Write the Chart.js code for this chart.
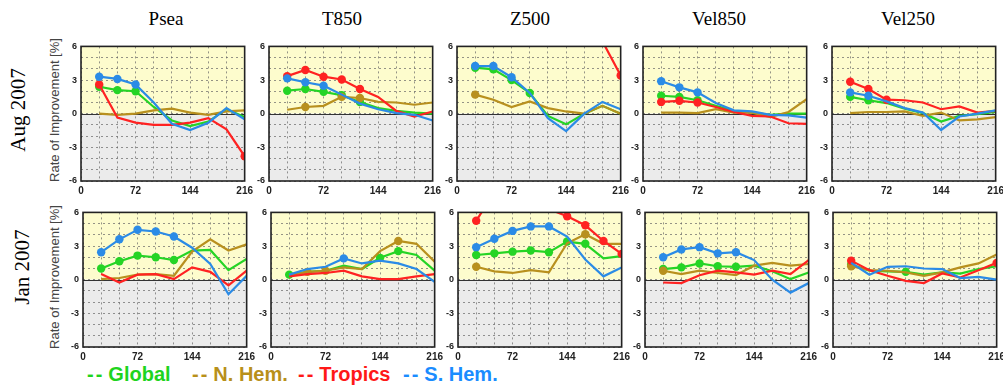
<!DOCTYPE html>
<html>
<head>
<meta charset="utf-8">
<script src="https://cdn.jsdelivr.net/npm/chart.js@4.4.1/dist/chart.umd.min.js"></script>
<style>
  html, body { margin: 0; padding: 0; background: #fff; }
  #wrap { position: relative; width: 1003px; height: 387px; overflow: hidden; }
  #wrap canvas { position: absolute; }
  .ttl { position: absolute; top: 8px; font-family: "Liberation Serif", serif; font-size: 19px; color: #000; transform: translateX(-50%); white-space: nowrap; }
  .row { position: absolute; font-family: "Liberation Serif", serif; font-size: 21px; color: #000; transform: translate(-50%, -50%) rotate(-90deg); white-space: nowrap; }
  .ytl { position: absolute; font-family: "Liberation Sans", Arial, sans-serif; font-size: 13px; color: #444; transform: translate(-50%, -50%) rotate(-90deg); white-space: nowrap; }
  .leg { position: absolute; top: 363px; font-family: "Liberation Sans", Arial, sans-serif; font-weight: bold; font-size: 20px; white-space: nowrap; }
  .leg .dash { letter-spacing: 2px; margin-right: 4px; }
</style>
</head>
<body>
<div id="wrap"></div>
<script>
// ---- 데이터 -------------------------------------------------
const leadHours = [24, 48, 72, 96, 120, 144, 168, 192, 216];
const xGrid = [0, 24, 48, 72, 96, 120, 144, 168, 192, 216];
const yGrid = [-6, -5, -4, -3, -2, -1, 0, 1, 2, 3, 4, 5, 6];
const xTicks = [0, 72, 144, 216];
const yTicks = [-6, -3, 0, 3, 6];
const fields = ["Psea", "T850", "Z500", "Vel850", "Vel250"];
const months = ["Aug 2007", "Jan 2007"];
const regions = ["Global", "N. Hem.", "Tropics", "S. Hem."];
const yTitle = "Rate of Improvement [%]";

// Aug 2007
const augPseaGlo = [2.4, 2.1, 2.0, 0.6, -0.6, -1.1, -0.7, 0.4, -0.3];
const augPseaNh  = [0.0, -0.1, 0.0, 0.3, 0.45, 0.1, -0.1, 0.2, 0.3];
const augPseaTr  = [2.6, -0.35, -0.8, -1.0, -1.0, -0.8, -0.4, -1.4, -3.8];
const augPseaSh  = [3.3, 3.1, 2.6, 1.0, -0.9, -1.45, -0.8, 0.5, -0.5];

const augT850Glo = [2.05, 2.2, 1.95, 1.65, 1.05, 0.5, 0.25, 0.1, 0.0];
const augT850Nh  = [0.35, 0.6, 0.7, 1.5, 1.4, 1.05, 1.0, 0.8, 1.0];
const augT850Tr  = [3.35, 3.9, 3.3, 3.05, 2.2, 1.5, 0.25, -0.25, 0.2];
const augT850Sh  = [3.15, 2.8, 2.5, 1.7, 0.9, 0.4, 0.05, -0.1, -0.6];

const augZ500Glo = [4.1, 3.95, 3.0, 1.85, -0.2, -0.95, 0.0, 0.7, 0.0];
const augZ500Nh  = [1.7, 1.25, 0.6, 1.1, 0.5, 0.2, 0.0, 0.7, 0.0];
const augZ500Tr  = [9.0, 9.0, 9.0, 9.0, 9.0, 8.5, 7.5, 6.45, 3.4];
const augZ500Sh  = [4.25, 4.25, 3.25, 1.85, -0.4, -1.55, 0.0, 1.05, 0.4];

const augV850Glo = [1.6, 1.5, 1.2, 0.7, 0.25, 0.1, -0.1, 0.0, 0.0];
const augV850Nh  = [0.1, 0.1, 0.05, 0.4, 0.1, 0.1, -0.3, 0.15, 1.3];
const augV850Tr  = [1.05, 1.15, 1.0, 0.6, 0.15, -0.2, -0.25, -0.85, -0.9];
const augV850Sh  = [2.9, 2.35, 1.9, 0.95, 0.3, 0.2, -0.1, -0.15, -0.35];

const augV250Glo = [1.5, 1.2, 0.95, 0.45, 0.05, -0.7, -0.2, -0.05, 0.15];
const augV250Nh  = [0.05, 0.15, 0.15, 0.2, -0.2, 0.1, -0.6, -0.5, -0.3];
const augV250Tr  = [2.85, 2.2, 1.25, 1.2, 1.0, 0.4, 0.65, 0.1, 0.25];
const augV250Sh  = [1.9, 1.6, 1.1, 0.5, 0.1, -1.45, -0.25, 0.0, 0.3];

// Jan 2007
const janPseaGlo = [1.0, 1.65, 2.15, 2.0, 1.75, 2.6, 2.65, 0.85, 1.85];
const janPseaNh  = [0.05, 0.15, 0.45, 0.5, 0.35, 2.5, 3.6, 2.6, 3.15];
const janPseaTr  = [0.5, -0.25, 0.45, 0.5, 0.05, 1.1, 0.7, -0.5, 0.8];
const janPseaSh  = [2.45, 3.6, 4.45, 4.3, 3.85, 2.85, 1.4, -1.3, 0.35];

const janT850Glo = [0.45, 0.7, 0.8, 1.25, 0.95, 1.95, 2.55, 2.2, 0.8];
const janT850Nh  = [0.4, 0.7, 0.8, 1.1, 0.95, 2.55, 3.45, 3.2, 1.6];
const janT850Tr  = [0.3, 0.5, 0.6, 0.8, 0.3, 0.05, 0.05, 0.3, 0.5];
const janT850Sh  = [0.45, 0.95, 1.15, 1.9, 1.45, 1.7, 1.45, 0.95, -0.2];

const janZ500Glo = [2.2, 2.35, 2.5, 2.6, 2.45, 3.4, 3.2, 1.9, 2.1];
const janZ500Nh  = [1.15, 0.75, 0.6, 0.85, 0.65, 3.25, 4.05, 3.2, 3.2];
const janZ500Tr  = [5.25, 7.8, 8.5, 7.5, 6.3, 5.65, 4.85, 3.45, 2.3];
const janZ500Sh  = [2.9, 3.65, 4.35, 4.75, 4.75, 3.85, 1.8, 0.3, 1.1];

const janV850Glo = [0.95, 1.1, 1.45, 1.2, 1.15, 1.25, 0.75, 0.05, 0.65];
const janV850Nh  = [0.8, 0.5, 0.8, 0.6, 0.4, 1.25, 1.5, 1.25, 1.4];
const janV850Tr  = [-0.25, -0.3, 0.4, 0.8, 0.65, 0.45, 0.8, 0.5, 1.75];
const janV850Sh  = [2.0, 2.7, 2.9, 2.35, 2.45, 1.75, 0.0, -1.15, -0.3];

const janV250Glo = [1.35, 0.8, 0.75, 0.7, 0.45, 0.65, 0.55, 0.95, 1.2];
const janV250Nh  = [1.2, 0.85, 0.8, 0.65, 0.35, 0.65, 1.1, 1.45, 2.25];
const janV250Tr  = [1.7, 0.85, 0.35, -0.1, -0.3, 0.55, 0.2, 0.85, 1.5];
const janV250Sh  = [1.5, 0.45, 1.15, 1.2, 1.0, 0.95, 0.15, 0.25, 0.0];

// 동그라미 표시가 붙은 예보 시간 (Global, N.Hem, Tropics, S.Hem 순)
const augPseaDots = [[24, 48, 72], [], [24, 216], [24, 48, 72]];
const augT850Dots = [[24, 48, 72, 96, 120], [48, 96, 120], [24, 48, 72, 96, 120], [24, 48, 72]];
const augZ500Dots = [[24, 48, 72, 96], [24], [216], [24, 48, 72]];
const augV850Dots = [[24, 48, 72], [], [24, 48, 72], [24, 48, 72]];
const augV250Dots = [[24, 48], [], [24, 48, 72], [24, 48]];
const janPseaDots = [[24, 48, 72, 96, 120], [], [], [24, 48, 72, 96, 120]];
const janT850Dots = [[24, 144, 168], [48, 72, 168], [], [96]];
const janZ500Dots = [[24, 48, 72, 96, 120, 144, 168], [24, 168], [24, 144, 168, 192, 216], [24, 48, 72, 96, 120]];
const janV850Dots = [[24, 48, 72, 96, 120], [24], [], [24, 48, 72, 96, 120]];
const janV250Dots = [[24, 96], [24], [24, 216], []];

// ---- 스타일 / 배치 ---------------------------------------------------
const COL = ["#25d425", "#b8901e", "#ff2222", "#2b8be6"];
const LEG_COL = ["#1ed41e", "#b8901a", "#ff1818", "#1a8cff"];
const PLOT_L = [[81, 269, 457, 643, 832], [83, 271, 458, 645, 833]];
const PLOT_T = [43, 209];
const PLOT_W = 164, PLOT_H = 138;
const PAD_L = 26, PAD_T = 6, PAD_R = 12, PAD_B = 18;
const TITLE_X = [166, 342, 530, 719, 908];
const LEG_X = [87, 192, 298, 403];

const panels = [
  [
    { s: [augPseaGlo, augPseaNh, augPseaTr, augPseaSh], d: augPseaDots },
    { s: [augT850Glo, augT850Nh, augT850Tr, augT850Sh], d: augT850Dots },
    { s: [augZ500Glo, augZ500Nh, augZ500Tr, augZ500Sh], d: augZ500Dots },
    { s: [augV850Glo, augV850Nh, augV850Tr, augV850Sh], d: augV850Dots },
    { s: [augV250Glo, augV250Nh, augV250Tr, augV250Sh], d: augV250Dots },
  ],
  [
    { s: [janPseaGlo, janPseaNh, janPseaTr, janPseaSh], d: janPseaDots },
    { s: [janT850Glo, janT850Nh, janT850Tr, janT850Sh], d: janT850Dots },
    { s: [janZ500Glo, janZ500Nh, janZ500Tr, janZ500Sh], d: janZ500Dots },
    { s: [janV850Glo, janV850Nh, janV850Tr, janV850Sh], d: janV850Dots },
    { s: [janV250Glo, janV250Nh, janV250Tr, janV250Sh], d: janV250Dots },
  ],
];

// 노란(+)/회색(-) 배경, 0선, 테두리
const panelDeco = {
  id: "panelDeco",
  beforeDraw(chart) {
    const { ctx, chartArea: a, scales: { y } } = chart;
    const y0 = y.getPixelForValue(0);
    ctx.save();
    ctx.fillStyle = "#fdfccd";
    ctx.fillRect(a.left, a.top, a.width, y0 - a.top);
    ctx.fillStyle = "#ebebeb";
    ctx.fillRect(a.left, y0, a.width, a.bottom - y0);
    ctx.restore();
  },
  beforeDatasetsDraw(chart) {
    const { ctx, chartArea: a, scales: { y } } = chart;
    const y0 = Math.round(y.getPixelForValue(0)) + 0.5;
    ctx.save();
    ctx.strokeStyle = "#333";
    ctx.lineWidth = 1.2;
    ctx.beginPath();
    ctx.moveTo(a.left, y0);
    ctx.lineTo(a.right, y0);
    ctx.stroke();
    ctx.restore();
  },
  afterDraw(chart) {
    const { ctx, chartArea: a } = chart;
    ctx.save();
    ctx.strokeStyle = "#222";
    ctx.lineWidth = 1.6;
    ctx.strokeRect(a.left, a.top, a.width, a.height);
    ctx.restore();
  },
};

Chart.defaults.font.family = "'Liberation Sans', Arial, sans-serif";
Chart.defaults.animation = false;

const wrap = document.getElementById("wrap");

function addDiv(cls, text, css) {
  const el = document.createElement("div");
  el.className = cls;
  el.textContent = text;
  Object.assign(el.style, css);
  wrap.appendChild(el);
  return el;
}

fields.forEach((f, i) => addDiv("ttl", f, { left: TITLE_X[i] + "px" }));
addDiv("row", months[0], { left: "18px", top: "110px" });
addDiv("row", months[1], { left: "22px", top: "267px" });
addDiv("ytl", yTitle, { left: "54px", top: "110px" });
addDiv("ytl", yTitle, { left: "54px", top: "277px" });
regions.forEach((r, i) => {
  const el = addDiv("leg", "", { left: LEG_X[i] + "px", color: LEG_COL[i] });
  const d = document.createElement("span");
  d.className = "dash";
  d.textContent = "--";
  el.appendChild(d);
  el.appendChild(document.createTextNode(r));
});

panels.forEach((rowPanels, r) => {
  rowPanels.forEach((p, c) => {
    const cv = document.createElement("canvas");
    const w = PAD_L + PLOT_W + PAD_R, h = PAD_T + PLOT_H + PAD_B;
    cv.width = w; cv.height = h;
    cv.style.width = w + "px"; cv.style.height = h + "px";
    cv.style.left = (PLOT_L[r][c] - PAD_L) + "px";
    cv.style.top = (PLOT_T[r] - PAD_T) + "px";
    wrap.appendChild(cv);

    const datasets = p.s.map((vals, k) => ({
      label: regions[k],
      data: leadHours.map((hr, j) => ({ x: hr, y: vals[j] })),
      borderColor: COL[k],
      backgroundColor: COL[k],
      borderWidth: 2.2,
      pointRadius: leadHours.map((hr) => (p.d[k].includes(hr) ? 4.2 : 0)),
      pointBorderWidth: 0,
      pointBackgroundColor: COL[k],
      tension: 0,
      order: 4 - k,
    }));

    new Chart(cv, {
      type: "line",
      data: { datasets },
      options: {
        responsive: false,
        maintainAspectRatio: false,
        animation: false,
        events: [],
        layout: { padding: { left: 0, top: PAD_T, right: PAD_R, bottom: 0 } },
        plugins: { legend: { display: false }, tooltip: { enabled: false } },
        scales: {
          x: {
            type: "linear", min: 0, max: 216,
            grid: { color: "#666", lineWidth: 0.7, drawTicks: false },
            border: { display: false, dash: [2, 3] },
            afterBuildTicks: (s) => { s.ticks = xGrid.map((v) => ({ value: v })); },
            afterFit: (s) => { s.height = PAD_B; },
            ticks: {
              autoSkip: false, maxRotation: 0, padding: 4, color: "#222",
              font: { size: 10, weight: "bold" },
              callback: (v) => (xTicks.includes(v) ? String(v) : ""),
            },
          },
          y: {
            min: -6, max: 6,
            grid: { color: "#666", lineWidth: 0.7, drawTicks: false },
            border: { display: false, dash: [2, 3] },
            afterBuildTicks: (s) => { s.ticks = yGrid.map((v) => ({ value: v })); },
            afterFit: (s) => { s.width = PAD_L; },
            ticks: {
              autoSkip: false, padding: 4, color: "#222",
              font: { size: 9, weight: "bold" },
              callback: (v) => (yTicks.includes(v) ? String(v) : ""),
            },
          },
        },
      },
      plugins: [panelDeco],
    });
  });
});
</script>
</body>
</html>
